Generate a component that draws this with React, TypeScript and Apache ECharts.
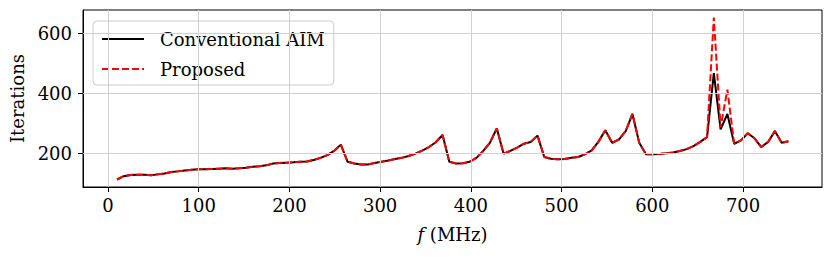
import React, { useEffect, useRef } from "react";
import * as echarts from "echarts";

const freqMHz = [
  10, 17.47, 24.95, 32.42, 39.9, 47.37, 54.85, 62.32, 69.8, 77.27,
  84.75, 92.22, 99.7, 107.17, 114.65, 122.12, 129.6, 137.07, 144.55, 152.02,
  159.49, 166.97, 174.44, 181.92, 189.39, 196.87, 204.34, 211.82, 219.29, 226.77,
  234.24, 241.72, 249.19, 256.67, 264.14, 271.62, 279.09, 286.57, 294.04, 301.52,
  308.99, 316.46, 323.94, 331.41, 338.89, 346.36, 353.84, 361.31, 368.79, 376.26,
  383.74, 391.21, 398.69, 406.16, 413.64, 421.11, 428.59, 436.06, 443.54, 451.01,
  458.48, 465.96, 473.43, 480.91, 488.38, 495.86, 503.33, 510.81, 518.28, 525.76,
  533.23, 540.71, 548.18, 555.66, 563.13, 570.61, 578.08, 585.56, 593.03, 600.51,
  607.98, 615.45, 622.93, 630.4, 637.88, 645.35, 652.83, 660.3, 667.78, 675.25,
  682.73, 690.2, 697.68, 705.15, 712.63, 720.1, 727.58, 735.05, 742.53, 750,
];

const conventionalAIM = [
  113, 124, 128, 129, 129, 127, 130, 133, 138, 140,
  143, 145, 147, 147, 148, 149, 150, 149, 150, 152,
  155, 157, 160, 166, 168, 169, 170, 172, 173, 178,
  185, 194, 208, 229, 172, 166, 163, 163, 168, 172,
  176, 181, 185, 191, 199, 209, 221, 237, 261, 172,
  166, 167, 172, 185, 208, 236, 283, 199, 208, 219,
  232, 238, 259, 188, 182, 180, 181, 185, 188, 197,
  210, 239, 277, 235, 246, 274, 331, 235, 197, 197,
  198, 200, 203, 208, 214, 224, 238, 254, 467, 280,
  331, 232, 243, 267, 250, 221, 238, 274, 235, 240,
];

const proposed = [
  113, 124, 128, 129, 129, 127, 130, 133, 138, 140,
  143, 145, 147, 147, 148, 149, 150, 149, 150, 152,
  155, 157, 160, 166, 168, 169, 170, 172, 173, 178,
  185, 194, 208, 229, 172, 166, 163, 163, 168, 172,
  176, 181, 185, 191, 199, 209, 221, 237, 261, 172,
  166, 167, 172, 185, 208, 236, 283, 199, 208, 219,
  232, 238, 259, 188, 182, 180, 181, 185, 188, 197,
  210, 239, 277, 235, 246, 274, 331, 235, 197, 197,
  198, 200, 203, 208, 214, 224, 238, 254, 652, 287,
  412, 232, 243, 267, 250, 221, 238, 274, 235, 240,
];

const xTicks = [0, 100, 200, 300, 400, 500, 600, 700];
const yTicks = [200, 400, 600];

const FONT = "DejaVu Serif";

export default function App() {
  const ref = useRef<HTMLDivElement>(null);
  useEffect(() => {
    document.body.style.margin = "0";
    if (!ref.current) return;
    const chart = echarts.init(ref.current, undefined, { renderer: "svg" });
    const pair = (ys: number[]) => freqMHz.map((f, i) => [f, ys[i]]);
    const gridLineData = [
      ...xTicks.map((v) => ({ xAxis: v })),
      ...yTicks.map((v) => ({ yAxis: v })),
    ];
    chart.setOption({
      animation: false,
      textStyle: { fontFamily: FONT },
      grid: {
        left: 83,
        right: 8,
        top: 10,
        bottom: 73,
        show: true,
        borderColor: "#000",
        borderWidth: 1,
        backgroundColor: "transparent",
      },
      legend: {
        data: ["Conventional AIM", "Proposed"],
        orient: "vertical",
        left: 93,
        top: 21,
        padding: [9, 9, 7, 8],
        itemWidth: 42,
        itemHeight: 14,
        itemGap: 12,
        backgroundColor: "rgba(255,255,255,0.8)",
        borderColor: "#cccccc",
        borderWidth: 1,
        borderRadius: 4,
        itemStyle: { opacity: 0, borderWidth: 0 },
        textStyle: {
          fontFamily: FONT,
          fontSize: 18,
          color: "#000",
          padding: [0, 0, 0, 11],
        },
      },
      xAxis: {
        type: "value",
        min: -27.5,
        max: 787,
        name: "{i|f} (MHz)",
        nameLocation: "middle",
        nameGap: 38,
        nameTextStyle: {
          fontFamily: FONT,
          fontSize: 18,
          color: "#000",
          verticalAlign: "top",
          rich: {
            i: { fontFamily: FONT, fontSize: 18, fontStyle: "italic", color: "#000" },
          },
        },
        axisLine: { show: true, onZero: false, lineStyle: { color: "#000", width: 1 } },
        axisTick: {
          show: true,
          inside: false,
          length: 5,
          customValues: xTicks,
          lineStyle: { color: "#000", width: 1 },
        },
        axisLabel: {
          customValues: xTicks,
          fontFamily: FONT,
          fontSize: 18,
          color: "#000",
          margin: 9,
        },
        splitLine: { show: false },
      },
      yAxis: {
        type: "value",
        min: 88,
        max: 677,
        name: "Iterations",
        nameLocation: "middle",
        nameGap: 54,
        nameRotate: 90,
        nameTextStyle: { fontFamily: FONT, fontSize: 18, color: "#000" },
        axisLine: { show: true, onZero: false, lineStyle: { color: "#000", width: 1 } },
        axisTick: {
          show: true,
          inside: false,
          length: 5,
          customValues: yTicks,
          lineStyle: { color: "#000", width: 1 },
        },
        axisLabel: {
          customValues: yTicks,
          fontFamily: FONT,
          fontSize: 18,
          color: "#000",
          margin: 11,
        },
        splitLine: { show: false },
      },
      series: [
        {
          name: "grid",
          type: "line",
          data: [],
          z: 1,
          silent: true,
          markLine: {
            silent: true,
            symbol: "none",
            label: { show: false },
            lineStyle: { color: "#d0d0d0", width: 1, type: "solid" },
            data: gridLineData,
          },
        },
        {
          name: "Conventional AIM",
          type: "line",
          data: pair(conventionalAIM),
          symbol: "none",
          z: 3,
          lineStyle: { color: "#000", width: 2 },
          itemStyle: { color: "#000" },
        },
        {
          name: "Proposed",
          type: "line",
          data: pair(proposed),
          symbol: "none",
          z: 4,
          lineStyle: { color: "#ff0000", width: 2, type: [7, 3] },
          itemStyle: { color: "#ff0000" },
        },
      ],
    });
    return () => chart.dispose();
  }, []);
  return <div ref={ref} style={{ width: 830, height: 260 }} />;
}
